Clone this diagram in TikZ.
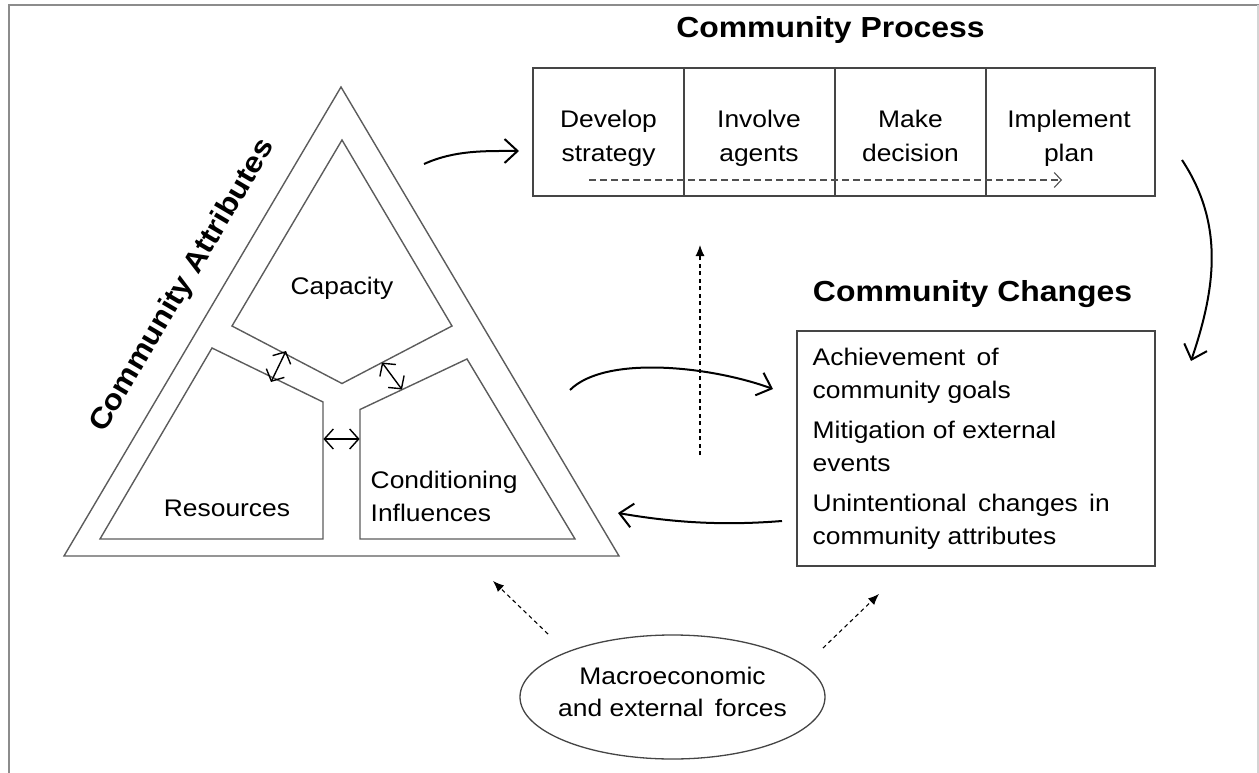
\documentclass[tikz,border=0pt]{standalone}
\usepackage{fontspec}
\setmainfont{Liberation Sans}[FakeStretch=1.1]
\usetikzlibrary{arrows.meta,shapes.geometric}
\definecolor{tgray}{HTML}{5C5C5C}
\definecolor{bgray}{HTML}{454545}
\definecolor{framegray}{HTML}{8C8C8C}
\definecolor{frameright}{HTML}{D4D4D4}
\definecolor{dgray}{HTML}{505050}
\begin{document}
\begin{tikzpicture}[x=1pt,y=-1pt,
  tri/.style={draw=tgray,line width=1.4pt,line join=miter},
  bx/.style={draw=bgray,line width=1.3pt,rectangle,inner sep=0pt},
  body/.style={font=\fontsize{24}{34}\selectfont,inner sep=0pt,align=center},
  item/.style={font=\fontsize{24}{33}\selectfont,inner sep=0pt,align=left,anchor=west},
  ttl/.style={font=\fontsize{29}{34}\selectfont\bfseries,inner sep=0pt},
  curvy/.style={line width=2pt,-{Straight Barb[length=13pt,width=24pt]}},
  dbl/.style={line width=1.4pt,{Straight Barb[length=9pt,width=20pt]}-{Straight Barb[length=9pt,width=20pt]}},
  pdash/.style={draw=dgray,line width=1.1pt,dash pattern=on 7pt off 4pt,-{Straight Barb[length=7pt,width=15pt]}},
  fdash/.style={line width=1.1pt,dash pattern=on 4pt off 3.5pt,-{Latex[length=11pt,width=9pt]}}
]
\useasboundingbox (0,0) rectangle (1259,773);
% frame
\draw[framegray,line width=2pt] (9,773) -- (9,5) -- (1259,5);
\draw[frameright,line width=1.5pt] (1258,5) -- (1258,773);

% titles
\node[ttl,anchor=base] (tproc) at (830.5,38) {Community Process};
\node[ttl,anchor=base] (tchg) at (972.5,301) {Community Changes};
\node[ttl,rotate=59.4] (tattr) at (183,286) {Community Attributes};

% triangle
\coordinate (A) at (341,87);
\coordinate (B) at (64,556);
\coordinate (C) at (619,556);
\draw[tri] (A) -- (B) -- (C) -- cycle;
\draw[tri] (342,140) -- (232,326) -- (342,383.5) -- (452,326) -- cycle;
\draw[tri] (212,348) -- (323,402) -- (323,539) -- (100,539) -- cycle;
\draw[tri] (467,359) -- (575,539) -- (360,539) -- (360,409.5) -- cycle;
\node[body,anchor=base] (cap) at (342,294) {Capacity};
\node[body,anchor=base] (res) at (227,516) {Resources};
\node[body,anchor=base west] (cond1) at (370.5,488) {Conditioning};
\node[body,anchor=base west] (cond2) at (370.5,521) {Influences};

% double arrows
\coordinate (cr1) at (271,382);
\coordinate (cr2) at (286,351);
\coordinate (cc1) at (382,362.5);
\coordinate (cc2) at (402,389.5);
\coordinate (rc1) at (323.4,439);
\coordinate (rc2) at (359.6,439);
\draw[dbl] (cr1) -- (cr2);
\draw[dbl] (cc1) -- (cc2);
\draw[dbl] (rc1) -- (rc2);

% process box
\node[bx,minimum width=151pt,minimum height=128pt] (c1) at (608.5,132) {};
\node[bx,minimum width=151pt,minimum height=128pt] (c2) at (759.5,132) {};
\node[bx,minimum width=151pt,minimum height=128pt] (c3) at (910.5,132) {};
\node[bx,minimum width=169pt,minimum height=128pt] (c4) at (1070.5,132) {};
\node[body] (t1) at (608.5,137.7) {\strut Develop\\\strut strategy};
\node[body] (t2) at (759,137.7) {\strut Involve\\\strut agents};
\node[body] (t3) at (910.5,137.7) {\strut Make\\\strut decision};
\node[body] (t4) at (1069,137.7) {\strut Implement\\\strut plan};
\coordinate (ds) at (589,180);
\coordinate (de) at (1062,180);
\draw[pdash] (ds) -- (de);

% changes box
\node[bx,minimum width=358pt,minimum height=235pt] (chg) at (976,448.5) {};
\node[item] (i1) at (812.5,374.9) {\strut Achievement\, of\\\strut community goals};
\node[item] (i2) at (812.5,447.9) {\strut Mitigation of external\\\strut events};
\node[item] (i3) at (812.5,521.4) {\strut Unintentional\, changes\, in\\\strut community attributes};

% ellipse
\node[ellipse,draw=bgray,line width=1.3pt,minimum width=305pt,minimum height=124pt,inner sep=0pt] (mac) at (672.5,697) {};
\node[body,font=\fontsize{24}{32}\selectfont] (mact) at (672.5,693.6) {\strut Macroeconomic\\\strut and external\, forces};

% curved arrows
\coordinate (a1s) at (424,164);
\coordinate (a1e) at (519,151);
\draw[curvy] (a1s) .. controls (455,150) and (485,151) .. (a1e);
\coordinate (a2s) at (1182,160);
\coordinate (a2e) at (1191,361);
\draw[curvy] (a2s) .. controls (1225,225) and (1215,290) .. (a2e);
\coordinate (a3s) at (570,390);
\coordinate (a3e) at (773,389);
\draw[curvy] (a3s) .. controls (605,355) and (710,366) .. (a3e);
\coordinate (a4s) at (782,521);
\coordinate (a4e) at (618,513);
\draw[curvy] (a4s) .. controls (720,526) and (670,522) .. (a4e);

% dashed arrows
\coordinate (v1) at (700,455);
\coordinate (v2) at (700,245);
\draw[fdash] (v1) -- (v2);
\coordinate (e1) at (548,634);
\coordinate (e2) at (493,581);
\draw[fdash] (e1) -- (e2);
\coordinate (e3) at (823,648);
\coordinate (e4) at (879,594);
\draw[fdash] (e3) -- (e4);
\end{tikzpicture}
\end{document}
